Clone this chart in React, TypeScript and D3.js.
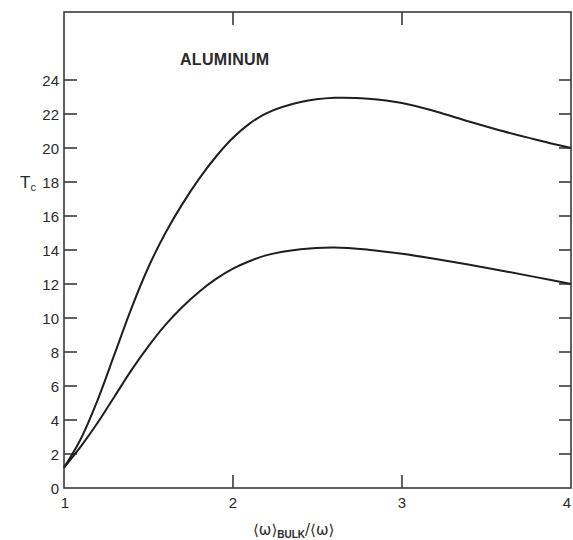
import React from "react";
import * as d3 from "d3";

const xValues = [1.0, 1.1, 1.2, 1.3, 1.4, 1.5, 1.6, 1.7, 1.8, 1.9, 2.0, 2.1, 2.2, 2.4, 2.6, 2.8, 3.0, 3.2, 3.4, 3.6, 3.8, 4.0];
const upperTc = [1.2, 2.9, 5.2, 7.9, 10.6, 13.0, 15.0, 16.7, 18.2, 19.5, 20.6, 21.45, 22.05, 22.7, 22.95, 22.9, 22.65, 22.15, 21.55, 20.98, 20.47, 20.0];
const lowerTc = [1.2, 2.45, 3.85, 5.4, 6.95, 8.35, 9.6, 10.65, 11.55, 12.3, 12.9, 13.35, 13.7, 14.05, 14.15, 14.02, 13.78, 13.47, 13.13, 12.77, 12.39, 12.0];

const yTicks = [0, 2, 4, 6, 8, 10, 12, 14, 16, 18, 20, 22, 24];
const xTicks = [1, 2, 3, 4];
const xInnerTicks = [2, 3];
const titleText = "ALUMINUM";

const W = 573;
const H = 540;
const left = 64, right = 571, top = 12, bottom = 488;

export default function App() {
  const x = d3.scaleLinear().domain([1, 4]).range([left, right]);
  const y = d3.scaleLinear().domain([0, 28]).range([bottom, top]);
  const line = d3
    .line<number>()
    .x((_, i) => x(xValues[i]))
    .y((d) => y(d))
    .curve(d3.curveCatmullRom.alpha(0.5));

  const ink = "#2a2a2a";
  const font = "'Liberation Sans', Arial, Helvetica, sans-serif";

  return (
    <svg
      width={W}
      height={H}
      style={{ position: "absolute", left: 0, top: 0, background: "#fff" }}
      fontFamily={font}
    >
      <rect x={0} y={0} width={W} height={H} fill="#fff" />
      <rect x={left} y={top} width={right - left} height={bottom - top} fill="none" stroke="#3a3a3a" strokeWidth={1.6} />
      {yTicks.map((t) => (
        <g key={"y" + t}>
          {t > 0 && <line x1={left} x2={left + 13} y1={y(t)} y2={y(t)} stroke="#3a3a3a" strokeWidth={1.6} />}
          {t > 0 && <line x1={right} x2={right - 12} y1={y(t)} y2={y(t)} stroke="#3a3a3a" strokeWidth={1.6} />}
          <text x={59} y={y(t) + 5.5} textAnchor="end" fontSize={15} fill={ink}>
            {t}
          </text>
        </g>
      ))}
      {xInnerTicks.map((t) => (
        <g key={"x" + t}>
          <line x1={x(t)} x2={x(t)} y1={bottom} y2={bottom - 13} stroke="#3a3a3a" strokeWidth={1.6} />
          <line x1={x(t)} x2={x(t)} y1={top} y2={top + 13} stroke="#3a3a3a" strokeWidth={1.6} />
        </g>
      ))}
      {xTicks.map((t) => (
        <text
          key={"xl" + t}
          x={x(t) + (t === 1 ? 1 : t === 4 ? -4 : 0)}
          y={508}
          textAnchor="middle"
          fontSize={15}
          fill={ink}
        >
          {t}
        </text>
      ))}
      <path d={line(upperTc) || ""} fill="none" stroke="#1e1e1e" strokeWidth={2} />
      <path d={line(lowerTc) || ""} fill="none" stroke="#1e1e1e" strokeWidth={2} />
      <text x={180} y={65} fontSize={16} fontWeight="bold" fill={ink} letterSpacing={0.3}>
        {titleText}
      </text>
      <text x={20} y={188} fontSize={17} fill={ink}>
        T
        <tspan fontSize={11} dy={3}>c</tspan>
      </text>
      <text x={253} y={535} fontSize={15} fill={ink} fontFamily="'DejaVu Sans', sans-serif">
        ⟨ω⟩
        <tspan fontSize={10} fontWeight="bold" dy={3} fontFamily={font}>BULK</tspan>
        <tspan dy={-3}>/⟨ω⟩</tspan>
      </text>
    </svg>
  );
}
